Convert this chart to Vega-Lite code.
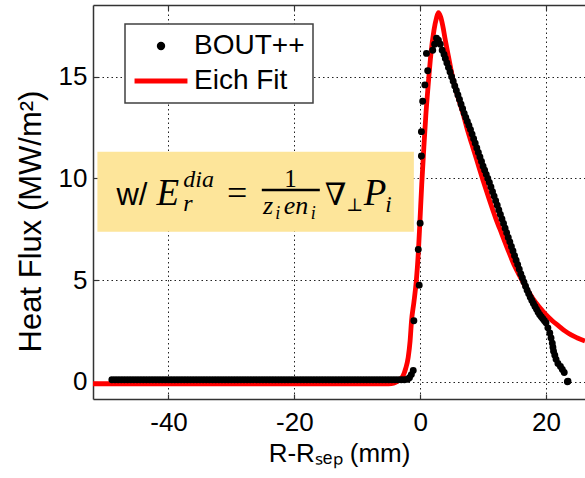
{
  "$schema": "https://vega.github.io/schema/vega-lite/v6.json",
  "width": 492,
  "height": 394,
  "autosize": {"type": "none"},
  "padding": {"left": 93, "top": 5, "right": 0, "bottom": 79},
  "background": "white",
  "config": {
    "view": {"stroke": null},
    "font": "Liberation Sans",
    "axis": {
      "labelFont": "Liberation Sans", "labelFontSize": 26, "labelColor": "black", "labelExpr": "'' + datum.value",
      "titleFont": "Liberation Sans", "titleFontWeight": "normal", "titleColor": "black",
      "domainColor": "#333333", "domainWidth": 1.5,
      "tickColor": "#333333", "tickWidth": 1.2, "tickSize": -5,
      "gridColor": "#222222", "gridWidth": 1, "gridDash": [1.5, 3]
    }
  },
  "datasets": {
    "bout": [
      {"x":-49,"q":0.1},{"x":-48.5,"q":0.1},{"x":-48,"q":0.1},{"x":-47.5,"q":0.1},{"x":-47,"q":0.1},{"x":-46.5,"q":0.1},{"x":-46,"q":0.1},{"x":-45.5,"q":0.1},{"x":-45,"q":0.1},{"x":-44.5,"q":0.1},
      {"x":-44,"q":0.1},{"x":-43.5,"q":0.1},{"x":-43,"q":0.1},{"x":-42.5,"q":0.1},{"x":-42,"q":0.1},{"x":-41.5,"q":0.1},{"x":-41,"q":0.1},{"x":-40.5,"q":0.1},{"x":-40,"q":0.1},{"x":-39.5,"q":0.1},
      {"x":-39,"q":0.1},{"x":-38.5,"q":0.1},{"x":-38,"q":0.1},{"x":-37.5,"q":0.1},{"x":-37,"q":0.1},{"x":-36.5,"q":0.1},{"x":-36,"q":0.1},{"x":-35.5,"q":0.1},{"x":-35,"q":0.1},{"x":-34.5,"q":0.1},
      {"x":-34,"q":0.1},{"x":-33.5,"q":0.1},{"x":-33,"q":0.1},{"x":-32.5,"q":0.1},{"x":-32,"q":0.1},{"x":-31.5,"q":0.1},{"x":-31,"q":0.1},{"x":-30.5,"q":0.1},{"x":-30,"q":0.1},{"x":-29.5,"q":0.1},
      {"x":-29,"q":0.1},{"x":-28.5,"q":0.1},{"x":-28,"q":0.1},{"x":-27.5,"q":0.1},{"x":-27,"q":0.1},{"x":-26.5,"q":0.1},{"x":-26,"q":0.1},{"x":-25.5,"q":0.1},{"x":-25,"q":0.1},{"x":-24.5,"q":0.1},
      {"x":-24,"q":0.1},{"x":-23.5,"q":0.1},{"x":-23,"q":0.1},{"x":-22.5,"q":0.1},{"x":-22,"q":0.1},{"x":-21.5,"q":0.1},{"x":-21,"q":0.1},{"x":-20.5,"q":0.1},{"x":-20,"q":0.1},{"x":-19.5,"q":0.1},
      {"x":-19,"q":0.1},{"x":-18.5,"q":0.1},{"x":-18,"q":0.1},{"x":-17.5,"q":0.1},{"x":-17,"q":0.1},{"x":-16.5,"q":0.1},{"x":-16,"q":0.1},{"x":-15.5,"q":0.1},{"x":-15,"q":0.1},{"x":-14.5,"q":0.1},
      {"x":-14,"q":0.1},{"x":-13.5,"q":0.1},{"x":-13,"q":0.1},{"x":-12.5,"q":0.1},{"x":-12,"q":0.1},{"x":-11.5,"q":0.1},{"x":-11,"q":0.1},{"x":-10.5,"q":0.1},{"x":-10,"q":0.1},{"x":-9.5,"q":0.1},
      {"x":-9,"q":0.1},{"x":-8.5,"q":0.1},{"x":-8,"q":0.1},{"x":-7.5,"q":0.1},{"x":-7,"q":0.1},{"x":-6.5,"q":0.1},{"x":-6,"q":0.1},{"x":-5.5,"q":0.1},{"x":-5,"q":0.1},{"x":-4.5,"q":0.1},
      {"x":-4,"q":0.1},{"x":-3.5,"q":0.1},{"x":-3,"q":0.1},{"x":-2.5,"q":0.1},{"x":-2,"q":0.12},
      {"x":-1.7,"q":0.2},{"x":-1.4,"q":0.35},{"x":-1.1,"q":0.55},{"x":-1.0,"q":3.0},{"x":-0.15,"q":4.75},{"x":-0.3,"q":6.5},{"x":0.0,"q":7.8},
      {"x":0.2,"q":11.1},{"x":0.2,"q":12.3},{"x":0.4,"q":13.8},{"x":0.75,"q":14.6},{"x":1.2,"q":15.3},{"x":1.0,"q":16.15},{"x":2.0,"q":16.3},{"x":2.3,"q":16.6},
      {"x":2.6,"q":16.9},{"x":2.9,"q":16.8},{"x":3.2,"q":16.6},{"x":3.5,"q":16.3},{"x":3.8,"q":16.1},
      {"x":4.0,"q":15.9},{"x":4.25,"q":15.68},{"x":4.5,"q":15.45},{"x":4.75,"q":15.23},{"x":5.0,"q":15.0},{"x":5.25,"q":14.78},{"x":5.5,"q":14.55},{"x":5.75,"q":14.33},
      {"x":6.0,"q":14.1},{"x":6.25,"q":13.88},{"x":6.5,"q":13.65},{"x":6.75,"q":13.43},{"x":7.0,"q":13.2},{"x":7.25,"q":13.0},{"x":7.5,"q":12.8},{"x":7.75,"q":12.6},
      {"x":8.0,"q":12.4},{"x":8.25,"q":12.18},{"x":8.5,"q":11.95},{"x":8.75,"q":11.73},{"x":9.0,"q":11.5},{"x":9.25,"q":11.28},{"x":9.5,"q":11.05},{"x":9.75,"q":10.83},
      {"x":10.0,"q":10.6},{"x":10.25,"q":10.4},{"x":10.5,"q":10.2},{"x":10.75,"q":10.0},{"x":11.0,"q":9.8},{"x":11.25,"q":9.58},{"x":11.5,"q":9.35},{"x":11.75,"q":9.13},
      {"x":12.0,"q":8.9},{"x":12.25,"q":8.68},{"x":12.5,"q":8.45},{"x":12.75,"q":8.23},{"x":13.0,"q":8.0},{"x":13.25,"q":7.78},{"x":13.5,"q":7.55},{"x":13.75,"q":7.33},
      {"x":14.0,"q":7.1},{"x":14.25,"q":6.88},{"x":14.5,"q":6.65},{"x":14.75,"q":6.43},{"x":15.0,"q":6.2},{"x":15.25,"q":5.98},{"x":15.5,"q":5.76},{"x":15.75,"q":5.53},
      {"x":16.0,"q":5.3},{"x":16.25,"q":5.1},{"x":16.5,"q":4.9},{"x":16.75,"q":4.7},{"x":17.0,"q":4.5},{"x":17.25,"q":4.33},{"x":17.5,"q":4.16},{"x":17.75,"q":4.0},
      {"x":18.0,"q":3.85},{"x":18.25,"q":3.7},{"x":18.5,"q":3.56},{"x":18.75,"q":3.42},{"x":19.0,"q":3.3},{"x":19.25,"q":3.2},{"x":19.5,"q":3.1},{"x":19.75,"q":3.0},
      {"x":20.0,"q":2.9},{"x":20.3,"q":2.65},{"x":20.6,"q":2.4},{"x":20.8,"q":2.15},{"x":21.0,"q":1.9},{"x":21.1,"q":1.7},{"x":21.2,"q":1.5},{"x":21.4,"q":1.3},
      {"x":21.6,"q":1.1},{"x":21.9,"q":0.9},{"x":22.3,"q":0.75},{"x":22.6,"q":0.6},{"x":22.9,"q":0.45},{"x":23.4,"q":0.0},{"x":23.5,"q":0.02}
    ],
    "eich": [
      {"x":-52,"q":-0.1},{"x":-5,"q":-0.1},{"x":-4.2,"q":-0.07},{"x":-3.7,"q":0.0},{"x":-3.2,"q":0.12},{"x":-2.7,"q":0.3},{"x":-2.3,"q":0.65},
      {"x":-1.9,"q":1.2},{"x":-1.6,"q":2.0},{"x":-1.37,"q":3.0},{"x":-1.0,"q":3.9},{"x":-0.6,"q":5.0},{"x":-0.3,"q":6.3},{"x":-0.05,"q":7.8},
      {"x":0.25,"q":9.7},{"x":0.6,"q":11.6},{"x":0.9,"q":13.1},{"x":1.25,"q":14.5},{"x":1.7,"q":16.1},{"x":2.2,"q":17.3},{"x":2.6,"q":17.9},
      {"x":2.9,"q":18.15},{"x":3.25,"q":17.95},{"x":3.6,"q":17.5},{"x":4.0,"q":16.8},{"x":4.5,"q":16.0},{"x":5.2,"q":14.9},{"x":6.0,"q":14.0},
      {"x":6.8,"q":13.2},{"x":7.5,"q":12.4},{"x":8.2,"q":11.7},{"x":9.0,"q":10.9},{"x":10,"q":9.9},{"x":11,"q":8.95},{"x":12,"q":8.05},
      {"x":13,"q":7.25},{"x":14,"q":6.45},{"x":15,"q":5.7},{"x":16,"q":5.1},{"x":17,"q":4.55},{"x":18,"q":4.05},{"x":19,"q":3.65},
      {"x":20,"q":3.3},{"x":21,"q":3.0},{"x":22,"q":2.75},{"x":23,"q":2.5},{"x":24,"q":2.3},{"x":25,"q":2.15},{"x":26.2,"q":2.0}
    ]
  },
  "layer": [
    {
      "layer": [
        {
          "data": {"values": [{}]},
          "mark": {"type": "rect", "fill": "#FDE59A"},
          "encoding": {
            "x": {"datum": -51.3, "type": "quantitative", "scale": {"domain": [-52, 26.2], "nice": false, "zero": false},
                  "axis": {"title": "R-Rₛₑₚ (mm)", "values": [-40, -20, 0, 20], "grid": true, "labelPadding": 15,
                           "titleFontSize": 26, "titleX": 246, "titleY": 62, "titleBaseline": "alphabetic", "titleAnchor": "middle"}},
            "x2": {"datum": -1.0},
            "y": {"datum": 11.31, "type": "quantitative", "scale": {"domain": [-0.85, 18.53], "nice": false, "zero": false},
                  "axis": {"title": "Heat Flux (MW/m²)", "values": [0, 5, 10, 15], "grid": true, "labelPadding": 11,
                           "titleFontSize": 31, "titleX": -53, "titleY": 216, "titleBaseline": "alphabetic", "titleAlign": "center", "titleAngle": -90}},
            "y2": {"datum": 7.38}
          }
        },
        {
          "data": {"name": "eich"},
          "transform": [{"calculate": "'Eich Fit'", "as": "series"}],
          "mark": {"type": "line", "strokeWidth": 4.8, "interpolate": "monotone"},
          "encoding": {
            "x": {"field": "x", "type": "quantitative"},
            "y": {"field": "q", "type": "quantitative"},
            "color": {"field": "series", "type": "nominal",
              "scale": {"domain": ["BOUT++", "Eich Fit"], "range": ["black", "#ff0000"]},
              "legend": {
                "orient": "none", "legendX": 32, "legendY": 19, "title": null,
                "fillColor": "white", "strokeColor": "#404040", "padding": 8,
                "labelFont": "Liberation Sans", "labelFontSize": 28, "labelColor": "black", "labelOffset": 19,
                "symbolSize": 2800, "symbolOffset": 14, "rowPadding": 7, "clipHeight": 28,
                "encode": {
                  "legend": {"update": {"strokeWidth": {"value": 1.5}}},
                  "symbols": {"update": {
                    "shape": {"signal": "datum.value === 'BOUT++' ? 'circle' : 'stroke'"},
                    "size": {"signal": "datum.value === 'BOUT++' ? 70 : 2800"},
                    "fill": {"signal": "datum.value === 'BOUT++' ? 'black' : 'transparent'"},
                    "stroke": {"signal": "datum.value === 'BOUT++' ? 'black' : '#ff0000'"},
                    "strokeWidth": {"signal": "datum.value === 'BOUT++' ? 0 : 5"},
                    "opacity": {"value": 1}
                  }}
                }
              }
            }
          }
        },
        {
          "data": {"name": "bout"},
          "transform": [{"calculate": "'BOUT++'", "as": "series"}],
          "mark": {"type": "point", "filled": true, "size": 48, "opacity": 1},
          "encoding": {
            "x": {"field": "x", "type": "quantitative"},
            "y": {"field": "q", "type": "quantitative"},
            "color": {"field": "series", "type": "nominal"}
          }
        }
      ]
    },
    {
      "data": {"values": [{}]},
      "layer": [
        {
          "mark": {"type": "text", "text": "w/", "font": "Liberation Sans", "fontSize": 31, "align": "left", "baseline": "alphabetic", "color": "black"},
          "encoding": {
            "x": {"datum": -48.27, "type": "quantitative", "scale": {"domain": [-52, 26.2], "nice": false, "zero": false},
                  "axis": {"orient": "top", "labels": false, "grid": false, "title": null, "values": [-40, -20, 0, 20], "domain": true, "ticks": true}},
            "y": {"datum": 8.69, "type": "quantitative"}
          }
        },
        {
          "mark": {"type": "text", "text": "E", "font": "Liberation Serif", "fontStyle": "italic", "fontSize": 37, "align": "left", "baseline": "alphabetic", "color": "black"},
          "encoding": {"x": {"datum": -41.91}, "y": {"datum": 8.69}}
        },
        {
          "mark": {"type": "text", "text": "dia", "font": "Liberation Serif", "fontStyle": "italic", "fontSize": 24, "align": "left", "baseline": "alphabetic", "color": "black"},
          "encoding": {"x": {"datum": -37.64}, "y": {"datum": 9.59}}
        },
        {
          "mark": {"type": "text", "text": "r", "font": "Liberation Serif", "fontStyle": "italic", "fontSize": 24, "align": "left", "baseline": "alphabetic", "color": "black"},
          "encoding": {"x": {"datum": -37.64}, "y": {"datum": 8.4}}
        },
        {
          "mark": {"type": "text", "text": "=", "font": "Liberation Serif", "fontSize": 36, "align": "center", "baseline": "alphabetic", "color": "black"},
          "encoding": {"x": {"datum": -29.09}, "y": {"datum": 8.69}}
        },
        {
          "mark": {"type": "text", "text": "1", "font": "Liberation Serif", "fontSize": 25, "align": "center", "baseline": "alphabetic", "color": "black"},
          "encoding": {"x": {"datum": -20.6}, "y": {"datum": 9.56}}
        },
        {
          "mark": {"type": "rule", "color": "black", "strokeWidth": 2.5},
          "encoding": {"x": {"datum": -25.17}, "x2": {"datum": -15.95}, "y": {"datum": 9.43}}
        },
        {
          "mark": {"type": "text", "text": "z", "font": "Liberation Serif", "fontStyle": "italic", "fontSize": 26, "align": "left", "baseline": "alphabetic", "color": "black"},
          "encoding": {"x": {"datum": -24.99}, "y": {"datum": 8.25}}
        },
        {
          "mark": {"type": "text", "text": "i", "font": "Liberation Serif", "fontStyle": "italic", "fontSize": 18, "align": "left", "baseline": "alphabetic", "color": "black"},
          "encoding": {"x": {"datum": -23.02}, "y": {"datum": 8.0}}
        },
        {
          "mark": {"type": "text", "text": "en", "font": "Liberation Serif", "fontStyle": "italic", "fontSize": 26, "align": "left", "baseline": "alphabetic", "color": "black"},
          "encoding": {"x": {"datum": -21.67}, "y": {"datum": 8.25}}
        },
        {
          "mark": {"type": "text", "text": "i", "font": "Liberation Serif", "fontStyle": "italic", "fontSize": 18, "align": "left", "baseline": "alphabetic", "color": "black"},
          "encoding": {"x": {"datum": -17.38}, "y": {"datum": 8.0}}
        },
        {
          "mark": {"type": "text", "text": "∇", "font": "DejaVu Serif", "fontSize": 31, "align": "left", "baseline": "alphabetic", "color": "black"},
          "encoding": {"x": {"datum": -15.15}, "y": {"datum": 8.69}}
        },
        {
          "mark": {"type": "text", "text": "⊥", "font": "DejaVu Serif", "fontSize": 18, "align": "left", "baseline": "alphabetic", "color": "black"},
          "encoding": {"x": {"datum": -11.75}, "y": {"datum": 8.4}}
        },
        {
          "mark": {"type": "text", "text": "P", "font": "Liberation Serif", "fontStyle": "italic", "fontSize": 37, "align": "left", "baseline": "alphabetic", "color": "black"},
          "encoding": {"x": {"datum": -8.95}, "y": {"datum": 8.69}}
        },
        {
          "mark": {"type": "text", "text": "i", "font": "Liberation Serif", "fontStyle": "italic", "fontSize": 23, "align": "left", "baseline": "alphabetic", "color": "black"},
          "encoding": {"x": {"datum": -5.55}, "y": {"datum": 8.35}}
        }
      ]
    }
  ],
  "resolve": {"axis": {"x": "independent"}}
}
